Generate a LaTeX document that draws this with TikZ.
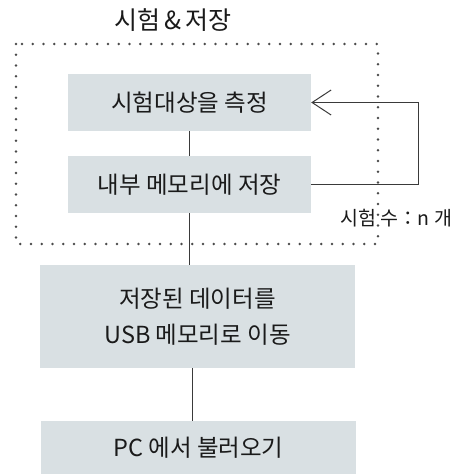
\documentclass[tikz,border=0pt]{standalone}
\usepackage{fontspec}
\setmainfont{Noto Sans CJK KR}
\usetikzlibrary{arrows.meta}
\definecolor{boxfill}{HTML}{D9E0E3}
\definecolor{txt}{HTML}{1A1A1A}
\definecolor{dotc}{HTML}{4A4A4A}
\definecolor{linec}{HTML}{3A3A3A}
\tikzset{
  flowbox/.style={fill=boxfill, draw=none, inner sep=0pt, text=txt, font=\fontsize{23.5}{36}\selectfont, align=center},
  conn/.style={draw=linec, line width=1pt},
}
\begin{document}
\begin{tikzpicture}[x=1pt,y=-1pt]
\useasboundingbox (0,0) rectangle (473,474);
% dotted group frame
\draw[dotc, line width=2.9pt, line cap=round, dash pattern=on 0pt off 10.75pt] (16,44) rectangle (378,244);
\node[text=txt, font=\fontsize{25}{28}\selectfont] (title) at (173,20) {시험\,\&\,저장};
% boxes
\node[flowbox, minimum width=243pt, minimum height=57pt] (b1) at (189.5,102.5) {시험대상을 측정};
\node[flowbox, minimum width=243pt, minimum height=57pt] (b2) at (189.5,184.5) {내부 메모리에 저장};
\node[flowbox, minimum width=315pt, minimum height=103pt] (b3) at (197.5,316.5) {저장된 데이터를\\USB 메모리로 이동};
\node[flowbox, minimum width=315pt, minimum height=53pt] (b4) at (198.5,447.5) {PC 에서 불러오기};
% connectors
\draw[conn] (b1.south -| 189,0) -- (b2.north -| 189,0);
\draw[conn] (b2.south -| 189,0) -- (b3.north -| 189,0);
\draw[conn] (b3.south -| 192,0) -- (b4.north -| 192,0);
\coordinate (fr) at (418,0);
\draw[conn, -{Straight Barb[length=19pt,width=25pt,line width=1pt]}] (b2.east) -- (b2.east -| fr) -- (b1.east -| fr) -- (b1.east);
\node[text=txt, font=\fontsize{19.5}{22}\selectfont, anchor=west, inner sep=0pt] (lbl) at (340,218) {시험 수：n 개};
\end{tikzpicture}
\end{document}
